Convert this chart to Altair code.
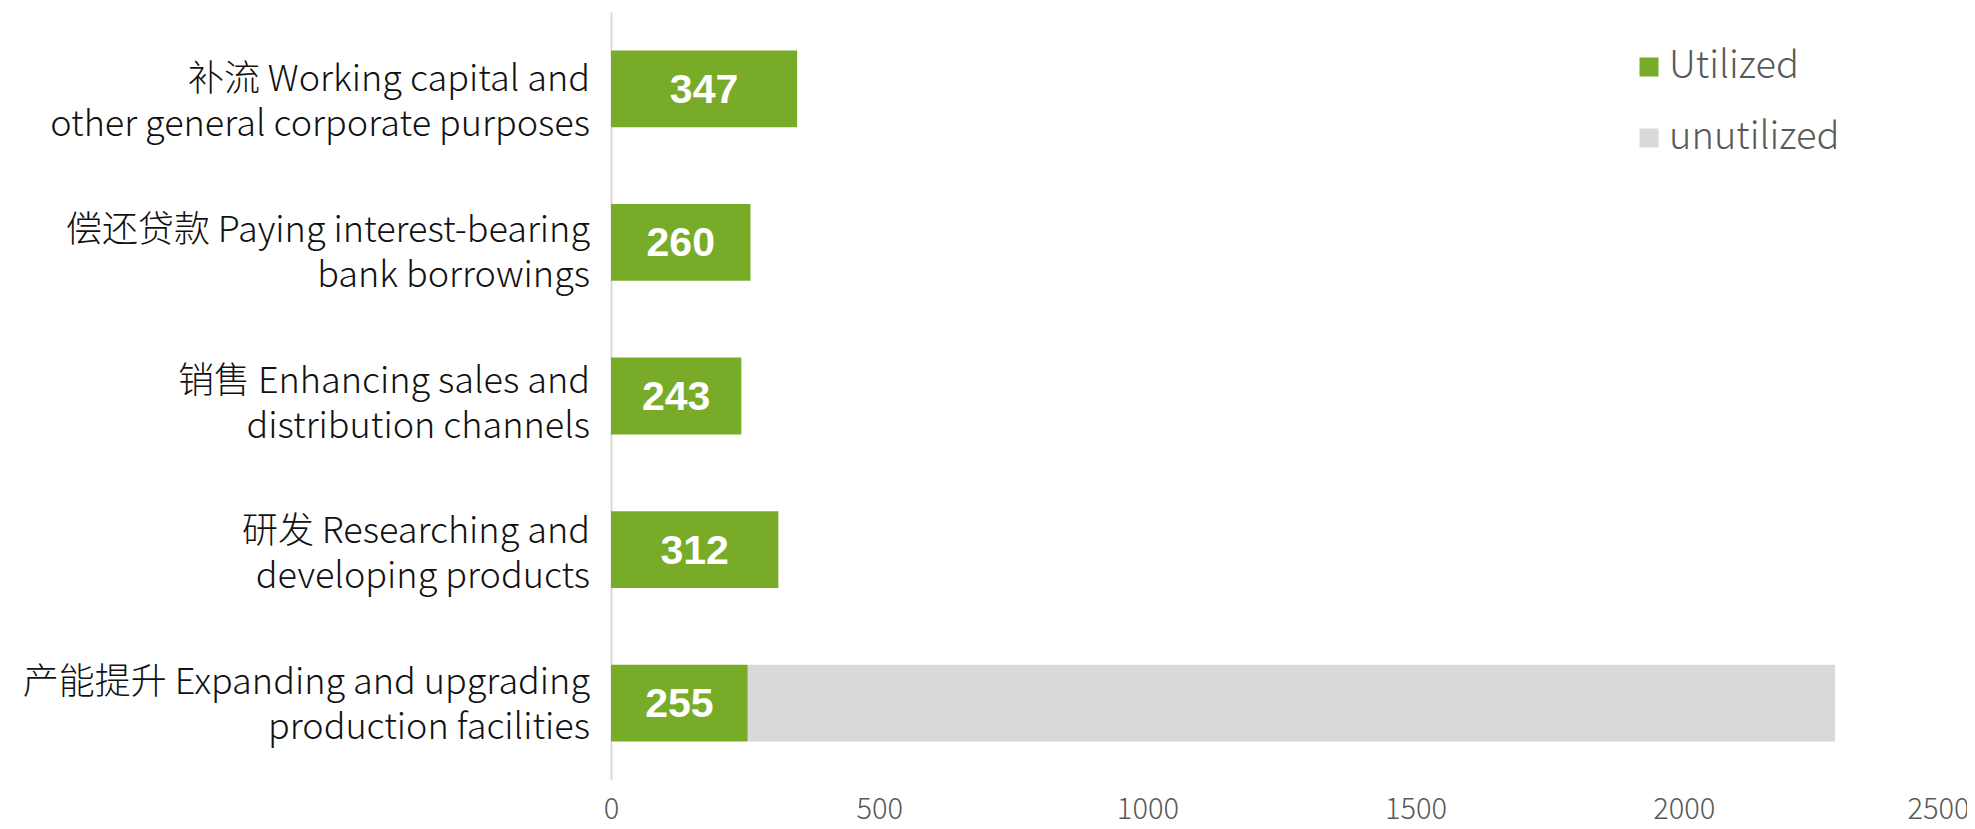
import altair as alt
import pandas as pd

categories = [
    "补流 Working capital and|other general corporate purposes",
    "偿还贷款 Paying interest-bearing|bank borrowings",
    "销售 Enhancing sales and|distribution channels",
    "研发 Researching and|developing products",
    "产能提升 Expanding and upgrading|production facilities",
]
utilized = [347, 260, 243, 312, 255]
unutilized = [0, 0, 0, 0, 2027]
statuses = ["Utilized", "unutilized"]
colors = ["#78AC28", "#D9D9D9"]
x_ticks = [0, 500, 1000, 1500, 2000, 2500]

rows = []
for c, u, n in zip(categories, utilized, unutilized):
    rows.append({"cat": c, "status": statuses[0], "value": u, "ord": 0})
    rows.append({"cat": c, "status": statuses[1], "value": n, "ord": 1})
df = pd.DataFrame(rows)

lab = pd.DataFrame({"cat": categories, "value": utilized})

band_scale = alt.Scale(paddingInner=0.5, paddingOuter=0.25)

y_enc = alt.Y(
    "cat:N",
    sort=categories,
    title=None,
    scale=band_scale,
    axis=alt.Axis(
        labels=False,
        ticks=False,
        domain=True,
        domainColor="#D9D9D9",
        domainWidth=2,
        grid=False,
    ),
)

bars = alt.Chart(df).mark_bar().encode(
    x=alt.X(
        "value:Q",
        stack="zero",
        title=None,
        scale=alt.Scale(domain=[0, 2500], nice=False),
        axis=alt.Axis(
            values=x_ticks,
            format="d",
            domain=False,
            ticks=False,
            grid=False,
            labelFont="Noto Sans CJK SC",
            labelFontWeight=300,
            labelFontSize=29,
            labelColor="#595959",
            labelPadding=15,
            labelFlush=False,
            labelOffset={"condition": {"test": "datum.value === 2500", "value": -14}, "value": 0},
        ),
    ),
    y=y_enc,
    color=alt.Color(
        "status:N",
        scale=alt.Scale(domain=statuses, range=colors),
        legend=alt.Legend(
            title=None,
            orient="none",
            legendX=1019,
            legendY=36,
            symbolType="square",
            symbolSize=361,
            symbolStrokeWidth=0,
            labelFont="Noto Sans CJK SC",
            labelFontWeight=300,
            labelFontSize=38,
            labelColor="#595959",
            labelOffset=1,
            labelLimit=400,
            rowPadding=33,
        ),
    ),
    order=alt.Order("ord:Q"),
)

texts = alt.Chart(lab).transform_calculate(mid="datum.value / 2").mark_text(
    font="Liberation Sans",
    fontWeight="bold",
    fontSize=41,
    color="white",
    baseline="middle",
    align="center",
    dy=2,
).encode(
    x=alt.X("mid:Q"),
    y=alt.Y("cat:N", sort=categories, scale=band_scale, axis=None),
    text=alt.Text("value:Q"),
)

cat_labels = alt.Chart(lab).mark_text(
    font="Noto Sans CJK SC",
    fontWeight=300,
    fontSize=36,
    color="#111111",
    align="right",
    baseline="middle",
    lineBreak="|",
    lineHeight=45,
).encode(
    x=alt.value(-21),
    y=alt.Y(
        "cat:N",
        sort=categories,
        scale=alt.Scale(type="point", range=[68, 671], padding=0),
        axis=None,
    ),
    text=alt.Text("cat:N"),
)

chart = alt.layer(bars, texts, cat_labels).resolve_scale(y="independent").properties(
    width=1341,
    height=768,
    autosize=alt.AutoSizeParams(type="none"),
    padding={"left": 603, "top": 4, "right": 15, "bottom": 41},
).configure_view(stroke=None)

chart.save("out.html", embed_options={"renderer": "svg", "actions": False})
